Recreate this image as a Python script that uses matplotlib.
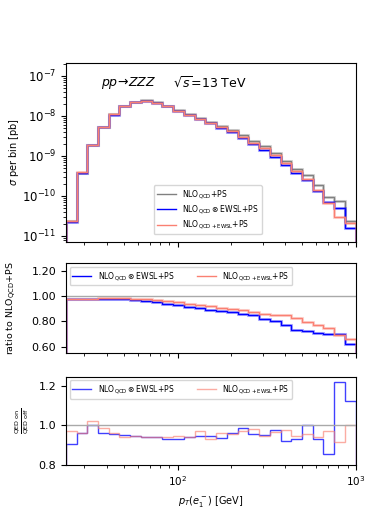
import numpy as np
import matplotlib
matplotlib.use('Agg')
import matplotlib.pyplot as plt
from matplotlib.ticker import FormatStrFormatter

# 27 log-spaced bins in pT(e1-)
edges = np.geomspace(23.6, 1000, 28)

sig_qcd = [2.3e-11, 3.8e-10, 1.9e-9, 5.3e-9, 1.09e-8, 1.75e-8, 2.25e-8, 2.4e-8, 2.15e-8,
           1.78e-8, 1.37e-8, 1.09e-8, 8.97e-9, 7.0e-9, 5.56e-9, 4.42e-9, 3.25e-9, 2.31e-9,
           1.76e-9, 1.2e-9, 7.6e-10, 4.8e-10, 3.3e-10, 1.87e-10, 9.6e-11, 7.5e-11, 2.4e-11]
sig_mult = [2.25e-11, 3.7e-10, 1.85e-9, 5.2e-9, 1.07e-8, 1.71e-8, 2.2e-8, 2.34e-8, 2.08e-8,
            1.71e-8, 1.3e-8, 1.03e-8, 8.3e-9, 6.5e-9, 4.95e-9, 3.87e-9, 2.8e-9, 2.0e-9,
            1.40e-9, 9.5e-10, 5.9e-10, 3.67e-10, 2.5e-10, 1.33e-10, 6.9e-11, 4.9e-11, 1.56e-11]
sig_add = [2.35e-11, 3.9e-10, 1.88e-9, 5.25e-9, 1.08e-8, 1.73e-8, 2.23e-8, 2.37e-8, 2.1e-8,
           1.74e-8, 1.33e-8, 1.05e-8, 8.5e-9, 6.7e-9, 5.2e-9, 4.1e-9, 2.95e-9, 2.12e-9,
           1.55e-9, 1.05e-9, 6.5e-10, 4.27e-10, 2.6e-10, 1.4e-10, 6.5e-11, 2.9e-11, 2.1e-11]

ratio_mult = [0.976, 0.974, 0.976, 0.979, 0.979, 0.979, 0.971, 0.963, 0.95, 0.937, 0.926,
              0.913, 0.903, 0.893, 0.882, 0.872, 0.861, 0.848, 0.822, 0.803, 0.769, 0.735,
              0.721, 0.711, 0.703, 0.698, 0.624]
ratio_add = [0.976, 0.976, 0.979, 0.982, 0.984, 0.984, 0.979, 0.974, 0.966, 0.958, 0.95,
             0.939, 0.926, 0.918, 0.908, 0.897, 0.887, 0.874, 0.861, 0.853, 0.850, 0.829,
             0.795, 0.769, 0.748, 0.695, 0.664]

qed_mult = [0.907, 0.962, 1.002, 0.962, 0.958, 0.95, 0.945, 0.94, 0.94, 0.932, 0.932, 0.94,
            0.945, 0.945, 0.935, 0.962, 0.987, 0.957, 0.95, 0.978, 0.92, 0.932, 1.003, 0.932,
            0.853, 1.22, 1.123]
qed_add = [0.973, 0.962, 1.02, 0.987, 0.962, 0.94, 0.945, 0.94, 0.94, 0.942, 0.945, 0.942,
           0.97, 0.933, 0.962, 0.958, 0.973, 0.982, 0.945, 0.967, 0.978, 0.945, 0.957, 0.942,
           0.97, 0.915, 1.0]

lab_qcd = r'NLO$_{\rm QCD}$+PS'
lab_mult = r'NLO$_{\rm QCD}\otimes$EWSL+PS'
lab_add = r'NLO$_{\rm QCD+EWSL}$+PS'

plt.rcParams['font.size'] = 7
fig = plt.figure(figsize=(3.74, 5.23), dpi=100)
L, W = 0.176, 0.775
ax1 = fig.add_axes([L, 0.538, W, 0.342])
ax2 = fig.add_axes([L, 0.3256, W, 0.171])
ax3 = fig.add_axes([L, 0.111, W, 0.1688])

# main panel
for vals, c, lab in [(sig_qcd, 'grey', lab_qcd), (sig_mult, 'blue', lab_mult), (sig_add, 'salmon', lab_add)]:
    ax1.stairs(vals, edges, color=c, lw=2.2, alpha=0.3)
    ax1.stairs(vals, edges, color=c, lw=1, label=lab)
ax1.set_yscale('log')
ax1.set_ylim(7.2e-12, 2.1e-7)
ax1.set_ylabel(r'$\sigma$ per bin [pb]', fontsize=7)
ax1.text(0.12, 0.93, r'$pp\!\to\!ZZZ$', transform=ax1.transAxes, fontsize=9, va='top')
ax1.text(0.37, 0.93, r'$\sqrt{s}$=13 TeV', transform=ax1.transAxes, fontsize=9, va='top')
ax1.legend(loc='lower left', bbox_to_anchor=(0.29, 0.02), fontsize=5.5, handlelength=2.5,
           labelspacing=0.3, borderpad=0.4)
ax1.tick_params(axis='y', labelsize=8.5)

# ratio panel
ax2.axhline(1.0, color='darkgrey', lw=1)
ax2.stairs(ratio_mult, edges, color='blue', lw=2.2, alpha=0.3)
ax2.stairs(ratio_mult, edges, color='blue', lw=1, label=lab_mult)
ax2.stairs(ratio_add, edges, color='salmon', lw=2.2, alpha=0.3)
ax2.stairs(ratio_add, edges, color='salmon', lw=1, label=lab_add)
ax2.set_ylim(0.553, 1.258)
ax2.set_yticks([0.6, 0.8, 1.0, 1.2])
ax2.yaxis.set_major_formatter(FormatStrFormatter('%.2f'))
ax2.set_ylabel(r'ratio to NLO$_{\rm QCD}$+PS', fontsize=6.8)
ax2.legend(loc='upper left', ncol=2, fontsize=5.5, handlelength=2.5, columnspacing=3,
           borderpad=0.35)
ax2.tick_params(axis='y', labelsize=8)

# QED on/off panel
ax3.axhline(1.0, color='darkgrey', lw=1)
ax3.stairs(qed_mult, edges, color='blue', lw=1, alpha=0.75, label=lab_mult)
ax3.stairs(qed_add, edges, color='salmon', lw=1, alpha=0.65, label=lab_add)
ax3.set_ylim(0.8, 1.247)
ax3.set_yticks([0.8, 1.0, 1.2])
ax3.set_ylabel(r'$\frac{\rm QED\ on}{\rm QED\ off}$', fontsize=6.5)
ax3.set_xlabel(r'$p_T(e_1^-)$ [GeV]', fontsize=7)
ax3.legend(loc='upper left', ncol=2, fontsize=5.5, handlelength=2.5, columnspacing=3,
           borderpad=0.35)
ax3.tick_params(axis='y', labelsize=8)
ax3.tick_params(axis='x', labelsize=7.5)

for ax in (ax1, ax2, ax3):
    ax.set_xscale('log')
    ax.set_xlim(edges[0], edges[-1])
ax1.tick_params(axis='x', labelbottom=False)
ax2.tick_params(axis='x', labelbottom=False)
ax1.yaxis.set_label_coords(-0.155, 0.5)
ax2.yaxis.set_label_coords(-0.165, 0.5)
ax3.yaxis.set_label_coords(-0.12, 0.5)

fig.savefig('out.png', dpi=100)
